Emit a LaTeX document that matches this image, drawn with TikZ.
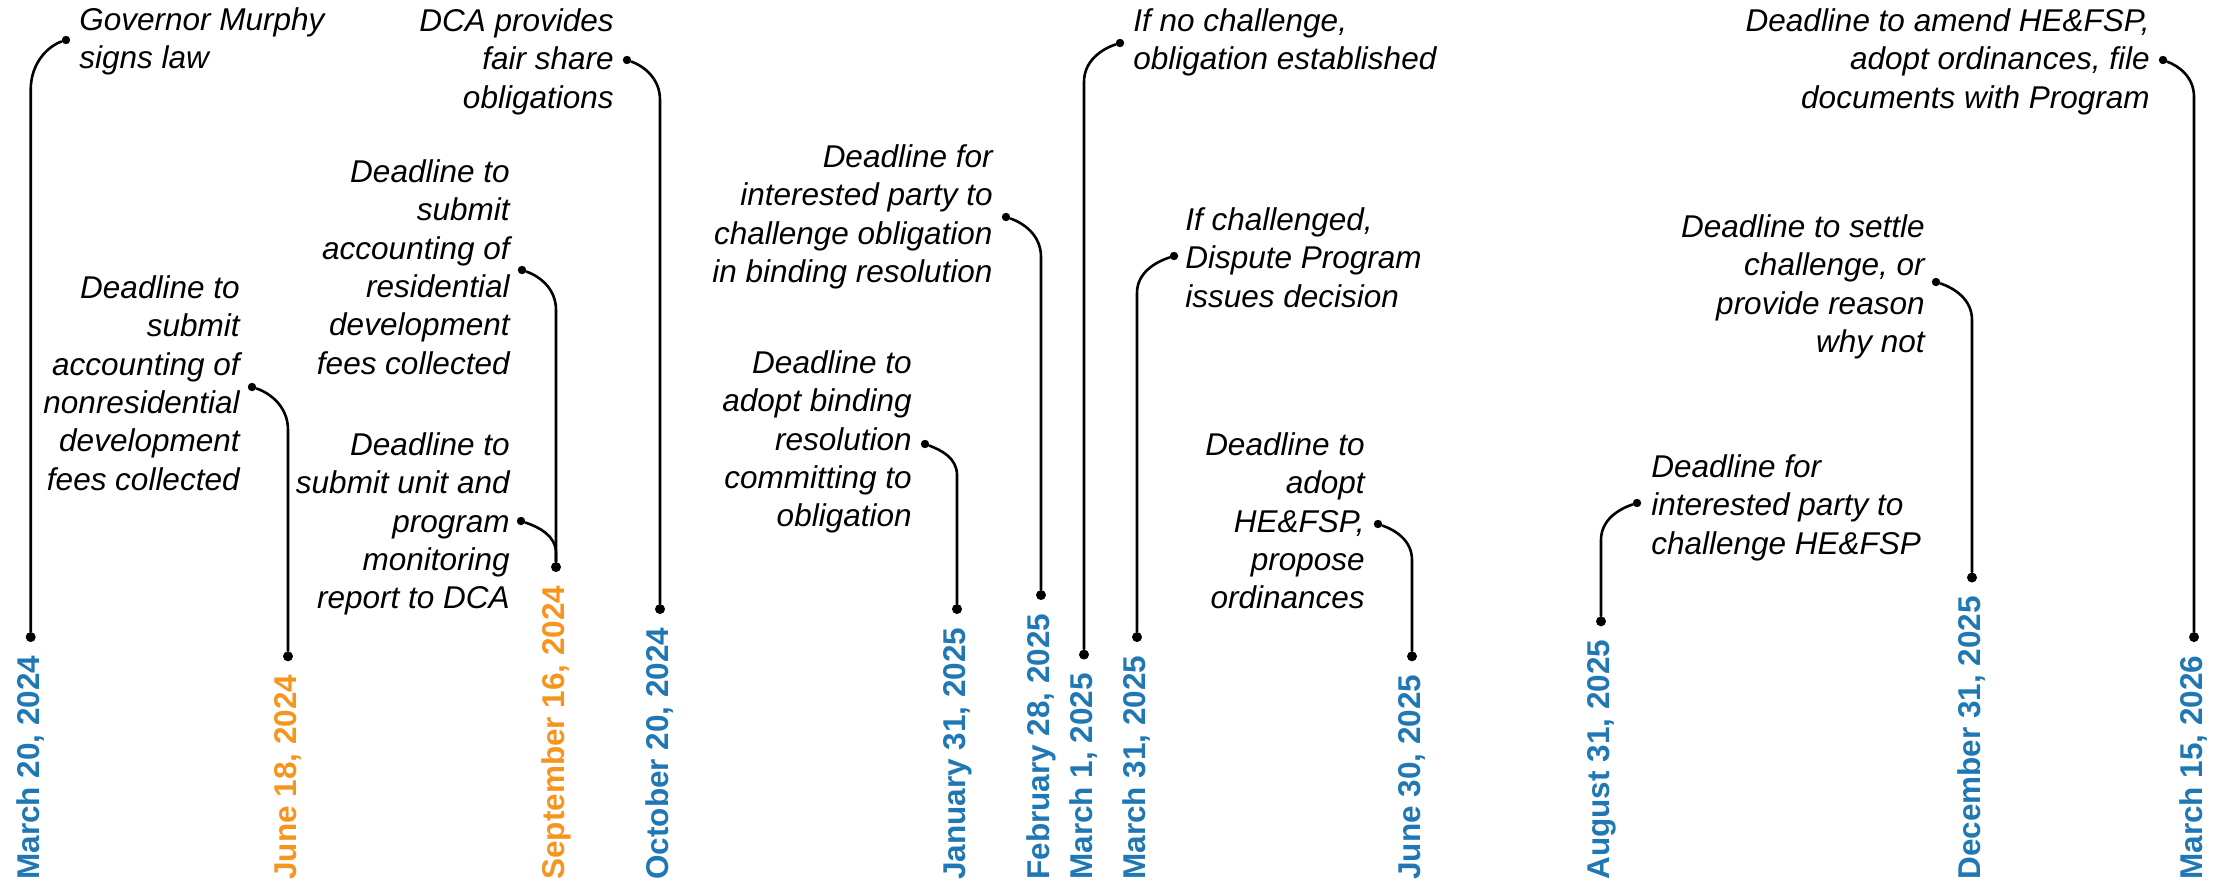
\documentclass[tikz,border=0pt]{standalone}
\usepackage{fontspec}
\setmainfont{Liberation Sans}
\usetikzlibrary{calc}
\definecolor{tlblue}{RGB}{31,120,180}
\definecolor{tlorange}{RGB}{247,148,30}
% connector: bottom dot -> bend coordinate -> top dot
\newcommand{\tlconn}[3]{\draw[connector] (#1) -- (#2) .. controls ($(#2)!0.55!(#2|-#3)$) and ($(#3)!0.5!(#2|-#3)+(0,6)$) .. (#3);}
\begin{document}
\begin{tikzpicture}[x=0.5pt,y=-0.5pt,
  datelbl/.style={rotate=90,anchor=west,inner sep=0pt,
    font=\bfseries\fontsize{15.75pt}{18pt}\selectfont,text height=11.3pt,text depth=2.7pt},
  note/.style={inner sep=0pt,font=\itshape\fontsize{15.75pt}{19.2pt}\selectfont},
  noteR/.style={note,align=right,anchor=north east},
  noteL/.style={note,align=left,anchor=north west},
  dot/.style={circle,fill=black,inner sep=0pt,minimum size=5pt},
  tdot/.style={circle,fill=black,inner sep=0pt,minimum size=4.2pt},
  connector/.style={line width=1.3pt,line cap=round}]
\useasboundingbox (0,0) rectangle (2234,885);

% 1 March 20, 2024
\node[datelbl,text=tlblue] (l1) at (30.7,880) {March 20, 2024};
\node[dot] (b1) at ($(l1.east)+(0,-18)$) {};
\node[tdot] (t1) at (66,40) {};
\coordinate (k1) at (30.7,90);
\node[noteL] (n1) at (79,7) {Governor Murphy\\signs law};
\tlconn{b1}{k1}{t1}

% 2 June 18, 2024
\node[datelbl,text=tlorange] (l2) at (288,880) {June 18, 2024};
\node[dot] (b2) at ($(l2.east)+(0,-18)$) {};
\node[tdot] (t2) at (252,387) {};
\coordinate (k2) at (288,430);
\node[noteR] (n2) at (240,275) {Deadline to\\submit\\accounting of\\nonresidential\\development\\fees collected};
\tlconn{b2}{k2}{t2}

% 3 September 16, 2024
\node[datelbl,text=tlorange] (l3) at (556,880) {September 16, 2024};
\node[dot] (b3) at ($(l3.east)+(0,-18)$) {};
\node[tdot] (t3) at (522,270) {};
\coordinate (k3) at (556,310);
\node[noteR] (n3) at (510,159) {Deadline to\\submit\\accounting of\\residential\\development\\fees collected};
\tlconn{b3}{k3}{t3}
\node[tdot] (s3) at (521,521) {};
\coordinate (m3) at (556,553);
\node[noteR] (n3b) at (510,432) {Deadline to\\submit unit and\\program\\monitoring\\report to DCA};
\tlconn{b3}{m3}{s3}

% 4 October 20, 2024
\node[datelbl,text=tlblue] (l4) at (660,880) {October 20, 2024};
\node[dot] (b4) at ($(l4.east)+(0,-18)$) {};
\node[tdot] (t4) at (627,60) {};
\coordinate (k4) at (660,100);
\node[noteR] (n4) at (614,8) {DCA provides\\fair share\\obligations};
\tlconn{b4}{k4}{t4}

% 5 January 31, 2025
\node[datelbl,text=tlblue] (l5) at (957,880) {January 31, 2025};
\node[dot] (b5) at ($(l5.east)+(0,-18)$) {};
\node[tdot] (t5) at (925,444) {};
\coordinate (k5) at (957,475);
\node[noteR] (n5) at (912,350) {Deadline to\\adopt binding\\resolution\\committing to\\obligation};
\tlconn{b5}{k5}{t5}

% 6 February 28, 2025
\node[datelbl,text=tlblue] (l6) at (1041,880) {February 28, 2025};
\node[dot] (b6) at ($(l6.east)+(0,-18)$) {};
\node[tdot] (t6) at (1006,217) {};
\coordinate (k6) at (1041,257);
\node[noteR] (n6) at (993,144) {Deadline for\\interested party to\\challenge obligation\\in binding resolution};
\tlconn{b6}{k6}{t6}

% 7 March 1, 2025
\node[datelbl,text=tlblue] (l7) at (1084,880) {March 1, 2025};
\node[dot] (b7) at ($(l7.east)+(0,-18)$) {};
\node[tdot] (t7) at (1120,43) {};
\coordinate (k7) at (1084,82);
\node[noteL] (n7) at (1133,8) {If no challenge,\\obligation established};
\tlconn{b7}{k7}{t7}

% 8 March 31, 2025
\node[datelbl,text=tlblue] (l8) at (1137,880) {March 31, 2025};
\node[dot] (b8) at ($(l8.east)+(0,-18)$) {};
\node[tdot] (t8) at (1174,256) {};
\coordinate (k8) at (1137,293);
\node[noteL] (n8) at (1185,207) {If challenged,\\Dispute Program\\issues decision};
\tlconn{b8}{k8}{t8}

% 9 June 30, 2025
\node[datelbl,text=tlblue] (l9) at (1412,880) {June 30, 2025};
\node[dot] (b9) at ($(l9.east)+(0,-18)$) {};
\node[tdot] (t9) at (1378,524) {};
\coordinate (k9) at (1412,560);
\node[noteR] (n9) at (1365,432) {Deadline to\\adopt\\HE\&FSP,\\propose\\ordinances};
\tlconn{b9}{k9}{t9}

% 10 August 31, 2025
\node[datelbl,text=tlblue] (l10) at (1601,880) {August 31, 2025};
\node[dot] (b10) at ($(l10.east)+(0,-18)$) {};
\node[tdot] (t10) at (1637,503) {};
\coordinate (k10) at (1601,540);
\node[noteL] (n10) at (1651,454) {Deadline for\\interested party to\\challenge HE\&FSP};
\tlconn{b10}{k10}{t10}

% 11 December 31, 2025
\node[datelbl,text=tlblue] (l11) at (1972,880) {December 31, 2025};
\node[dot] (b11) at ($(l11.east)+(0,-18)$) {};
\node[tdot] (t11) at (1936,282) {};
\coordinate (k11) at (1972,320);
\node[noteR] (n11) at (1925,214) {Deadline to settle\\challenge, or\\provide reason\\why not};
\tlconn{b11}{k11}{t11}

% 12 March 15, 2026
\node[datelbl,text=tlblue] (l12) at (2194,880) {March 15, 2026};
\node[dot] (b12) at ($(l12.east)+(0,-18)$) {};
\node[tdot] (t12) at (2163,60) {};
\coordinate (k12) at (2194,97);
\node[noteR] (n12) at (2150,8) {Deadline to amend HE\&FSP,\\adopt ordinances, file\\documents with Program};
\tlconn{b12}{k12}{t12}
\end{tikzpicture}
\end{document}
